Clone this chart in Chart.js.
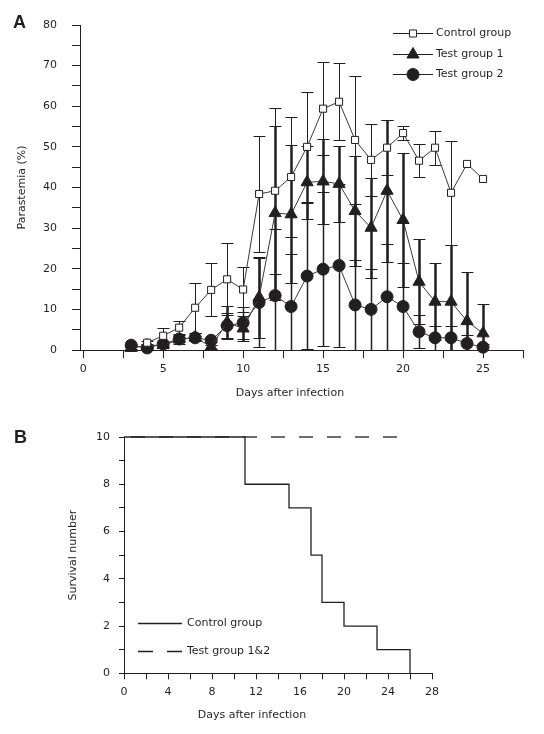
<!DOCTYPE html>
<html>
<head>
<meta charset="utf-8">
<script src="https://cdn.jsdelivr.net/npm/chart.js@4.4.1/dist/chart.umd.min.js"></script>
<style>
  body { margin: 0; background: #fff; }
  #wrap { position: relative; width: 544px; height: 734px; }
  canvas { position: absolute; left: 0; }
  .panel-letter { position: absolute; font: bold 18px "Liberation Sans", Arial, sans-serif; line-height: 18px; color: #231f20; }
</style>
</head>
<body>
<div id="wrap">
  <canvas id="chartA" width="544" height="410" style="top:0"></canvas>
  <canvas id="chartB" width="544" height="314" style="top:420px"></canvas>
  <div class="panel-letter" style="left:13px;top:13px">A</div>
  <div class="panel-letter" style="left:14px;top:428px">B</div>
</div>
<script>
// Panel A: parasitemia by day (mean and error)
const days = [3, 4, 5, 6, 7, 8, 9, 10, 11, 12, 13, 14, 15, 16, 17, 18, 19, 20, 21, 22, 23, 24, 25];
const controlMean = [null, 1.8, 3.5, 5.5, 10.4, 14.8, 17.4, 14.9, 38.4, 39.2, 42.6, 50.0, 59.4, 61.1, 51.7, 46.8, 49.8, 53.4, 46.6, 49.8, 38.7, 45.8, 42.1];
const controlErr = [null, 0.5, 1.8, 1.6, 6.1, 6.5, 8.9, 5.5, 14.3, 20.4, 14.8, 13.5, 11.5, 9.5, 15.8, 8.8, 6.8, 1.8, 4.0, 4.2, 12.8, 0, 0];
const group1Mean = [0.5, 1.1, 1.2, 2.6, 3.1, 0.8, 6.8, 5.3, 13.0, 33.7, 33.4, 41.3, 41.5, 40.9, 34.2, 30.1, 39.2, 32.0, 16.8, 11.9, 11.9, 7.1, 4.1];
const group1Err = [0.3, 0.5, 0.5, 1.0, 1.0, 0.5, 4.0, 3.0, 10.0, 21.5, 17.0, 9.0, 10.5, 9.3, 13.5, 12.3, 17.5, 16.5, 10.5, 9.5, 14.0, 12.2, 7.2];
const group2Mean = [1.2, 0.5, 1.5, 2.7, 3.0, 2.4, 6.0, 6.7, 11.7, 13.4, 10.7, 18.2, 19.9, 20.8, 11.1, 10.0, 13.1, 10.7, 4.5, 3.0, 3.0, 1.6, 0.7];
const group2Err = [0.3, 0.3, 0.5, 0.5, 0.5, 0.5, 3.0, 4.0, 11.0, 16.5, 13.0, 18.0, 19.0, 20.0, 11.0, 10.0, 13.0, 10.7, 4.0, 3.0, 3.0, 2.0, 0.7];
const xTicksA = [0, 2.5, 5, 7.5, 10, 12.5, 15, 17.5, 20, 22.5, 25, 27.5];

// Panel B: survival
const controlSurvDays = [0, 11, 15, 17, 18, 20, 23, 26];
const controlSurv = [10, 8, 7, 5, 3, 2, 1, 0];
const testSurvDays = [0, 26];
const testSurv = [10, 10];

const seriesNamesA = ['Control group', 'Test group 1', 'Test group 2'];
const seriesNamesB = ['Control group', 'Test group 1&2'];

const ink = '#231f20';
const font = { family: '"DejaVu Sans", Verdana, sans-serif', size: 11 };
Chart.defaults.font = font;
Chart.defaults.color = ink;

function points(xs, ys) {
    return xs.map((x, i) => ({ x: x, y: ys[i] }));
}

function drawMarker(ctx, style, x, y, r) {
    ctx.beginPath();
    if (style === 'rect') {
        const s = r * Math.SQRT1_2;
        ctx.rect(x - s, y - s, 2 * s, 2 * s);
    } else if (style === 'triangle') {
        let a = 0;
        for (let k = 0; k < 3; k++) {
            const px = x + Math.sin(a) * r, py = y - Math.cos(a) * r;
            k === 0 ? ctx.moveTo(px, py) : ctx.lineTo(px, py);
            a += Math.PI * 2 / 3;
        }
        ctx.closePath();
    } else {
        ctx.arc(x, y, r, 0, Math.PI * 2);
    }
    ctx.fill();
    ctx.stroke();
}

// vertical error bars, clipped at zero, drawn under the lines and markers
const errorBars = {
    id: 'errorBars',
    beforeDatasetsDraw(chart) {
        const { ctx, scales: { x, y } } = chart;
        const cap = 6;
        ctx.save();
        ctx.strokeStyle = ink;
        chart.data.datasets.forEach(ds => {
            if (!ds.errors) return;
            ds.data.forEach((p, j) => {
                const e = ds.errors[j];
                if (p.y == null || !e) return;
                const px = Math.round(x.getPixelForValue(p.x)) + 0.5;
                const top = Math.round(y.getPixelForValue(p.y + e)) + 0.5;
                const low = Math.max(p.y - e, 0);
                const bot = Math.round(y.getPixelForValue(low)) + 0.5;
                ctx.lineWidth = ds.errorWidth;
                ctx.beginPath();
                ctx.moveTo(px, top);
                ctx.lineTo(px, bot);
                ctx.stroke();
                ctx.lineWidth = 1;
                ctx.beginPath();
                ctx.moveTo(px - cap, top);
                ctx.lineTo(px + cap, top);
                if (low > 0) {
                    ctx.moveTo(px - cap, bot);
                    ctx.lineTo(px + cap, bot);
                }
                ctx.stroke();
            });
        });
        ctx.restore();
    }
};

// legend with a line through the marker (panel A) or a plain/dashed line (panel B)
const lineLegend = {
    id: 'lineLegend',
    afterDraw(chart, args, opts) {
        const ctx = chart.ctx;
        ctx.save();
        ctx.font = '11px ' + font.family;
        ctx.textBaseline = 'middle';
        opts.items.forEach((it, i) => {
            const y = Math.round(opts.y + i * opts.rowGap) + 0.5;
            ctx.strokeStyle = ink;
            ctx.lineWidth = it.lineWidth || 1;
            ctx.setLineDash(it.dash || []);
            ctx.beginPath();
            ctx.moveTo(opts.x, y);
            ctx.lineTo(opts.x + opts.lineLength, y);
            ctx.stroke();
            ctx.setLineDash([]);
            if (it.marker) {
                ctx.fillStyle = it.fill;
                ctx.lineWidth = 1;
                drawMarker(ctx, it.marker, opts.x + opts.lineLength / 2, y, it.radius);
            }
            ctx.fillStyle = ink;
            ctx.fillText(it.text, opts.x + opts.lineLength + opts.textGap, y);
        });
        ctx.restore();
    }
};

// axis caption placed where the original has it
const caption = {
    id: 'caption',
    afterDraw(chart, args, opts) {
        const ctx = chart.ctx;
        ctx.save();
        ctx.font = '11px ' + font.family;
        ctx.fillStyle = ink;
        ctx.textAlign = 'center';
        ctx.textBaseline = 'middle';
        ctx.fillText(opts.text, opts.x, opts.y);
        ctx.restore();
    }
};

const lineStyle = {
    borderColor: '#3a3a3a',
    borderWidth: 1,
    pointBorderColor: ink,
    pointBorderWidth: 1,
    clip: false
};

new Chart(document.getElementById('chartA'), {
    type: 'line',
    data: {
        datasets: [{
            ...lineStyle,
            label: seriesNamesA[0],
            data: points(days, controlMean),
            errors: controlErr,
            errorWidth: 1,
            pointStyle: 'rect',
            pointRadius: 5,
            pointBackgroundColor: '#fff'
        }, {
            ...lineStyle,
            label: seriesNamesA[1],
            data: points(days, group1Mean),
            errors: group1Err,
            errorWidth: 2.5,
            pointStyle: 'triangle',
            pointRadius: 7,
            pointBackgroundColor: ink
        }, {
            ...lineStyle,
            label: seriesNamesA[2],
            data: points(days, group2Mean),
            errors: group2Err,
            errorWidth: 1.5,
            pointStyle: 'circle',
            pointRadius: 6,
            pointBackgroundColor: ink
        }]
    },
    options: {
        responsive: false,
        animation: false,
        layout: { padding: { left: 10, right: 21, top: 25, bottom: 10 } },
        plugins: {
            legend: { display: false },
            tooltip: { enabled: false },
            lineLegend: {
                x: 393, y: 33, rowGap: 20.5, lineLength: 40, textGap: 3,
                items: [
                    { text: seriesNamesA[0], marker: 'rect', radius: 5, fill: '#fff' },
                    { text: seriesNamesA[1], marker: 'triangle', radius: 7, fill: ink },
                    { text: seriesNamesA[2], marker: 'circle', radius: 6, fill: ink }
                ]
            },
            caption: { text: 'Days after infection', x: 290, y: 393 }
        },
        scales: {
            x: {
                type: 'linear',
                min: -0.2,
                max: 27.5,
                afterBuildTicks: s => { s.ticks = xTicksA.map(v => ({ value: v })); },
                afterFit: s => { s.height = 50; },
                ticks: {
                    autoSkip: false,
                    maxRotation: 0,
                    padding: 5,
                    callback: v => (v % 5 === 0 ? v : '')
                },
                grid: { drawOnChartArea: false, tickLength: 8, color: ink },
                border: { color: ink, width: 1 }
            },
            y: {
                min: 0,
                max: 80,
                afterFit: s => { s.width = 70; },
                ticks: {
                    stepSize: 5,
                    padding: 15,
                    callback: v => (v % 10 === 0 ? v : '')
                },
                grid: { drawOnChartArea: false, tickLength: 8, color: ink },
                border: { color: ink, width: 1 },
                title: { display: true, text: 'Parastemia (%)', padding: { top: 6, bottom: 0 } }
            }
        }
    },
    plugins: [errorBars, lineLegend, caption]
});

new Chart(document.getElementById('chartB'), {
    type: 'line',
    data: {
        datasets: [{
            label: seriesNamesB[0],
            data: points(controlSurvDays, controlSurv),
            stepped: 'before',
            borderColor: ink,
            borderWidth: 1.3,
            pointRadius: 0,
            clip: false
        }, {
            label: seriesNamesB[1],
            data: points(testSurvDays, testSurv),
            borderColor: ink,
            borderWidth: 1.3,
            borderDash: [14, 14],
            borderDashOffset: 21,
            pointRadius: 0,
            clip: false
        }]
    },
    options: {
        responsive: false,
        animation: false,
        layout: { padding: { left: 64, right: 112, top: 17, bottom: 10 } },
        plugins: {
            legend: { display: false },
            tooltip: { enabled: false },
            lineLegend: {
                x: 138, y: 203, rowGap: 28, lineLength: 44, textGap: 5,
                items: [
                    { text: seriesNamesB[0], lineWidth: 1.3 },
                    { text: seriesNamesB[1], lineWidth: 1.3, dash: [15, 14] }
                ]
            },
            caption: { text: 'Days after infection', x: 252, y: 295 }
        },
        scales: {
            x: {
                type: 'linear',
                min: 0,
                max: 28,
                afterFit: s => { s.height = 50.7; },
                ticks: {
                    stepSize: 2,
                    autoSkip: false,
                    maxRotation: 0,
                    padding: 6,
                    callback: v => (v % 4 === 0 ? v : '')
                },
                grid: { drawOnChartArea: false, tickLength: 6, color: ink },
                border: { color: ink, width: 1 }
            },
            y: {
                min: 0,
                max: 10,
                afterFit: s => { s.width = 60; },
                ticks: {
                    stepSize: 1,
                    padding: 9,
                    callback: v => (v % 2 === 0 ? v : '')
                },
                grid: { drawOnChartArea: false, tickLength: 5, color: ink },
                border: { color: ink, width: 1 },
                title: { display: true, text: 'Survival number', padding: { top: 3, bottom: 0 } }
            }
        }
    },
    plugins: [lineLegend, caption]
});
</script>
</body>
</html>
